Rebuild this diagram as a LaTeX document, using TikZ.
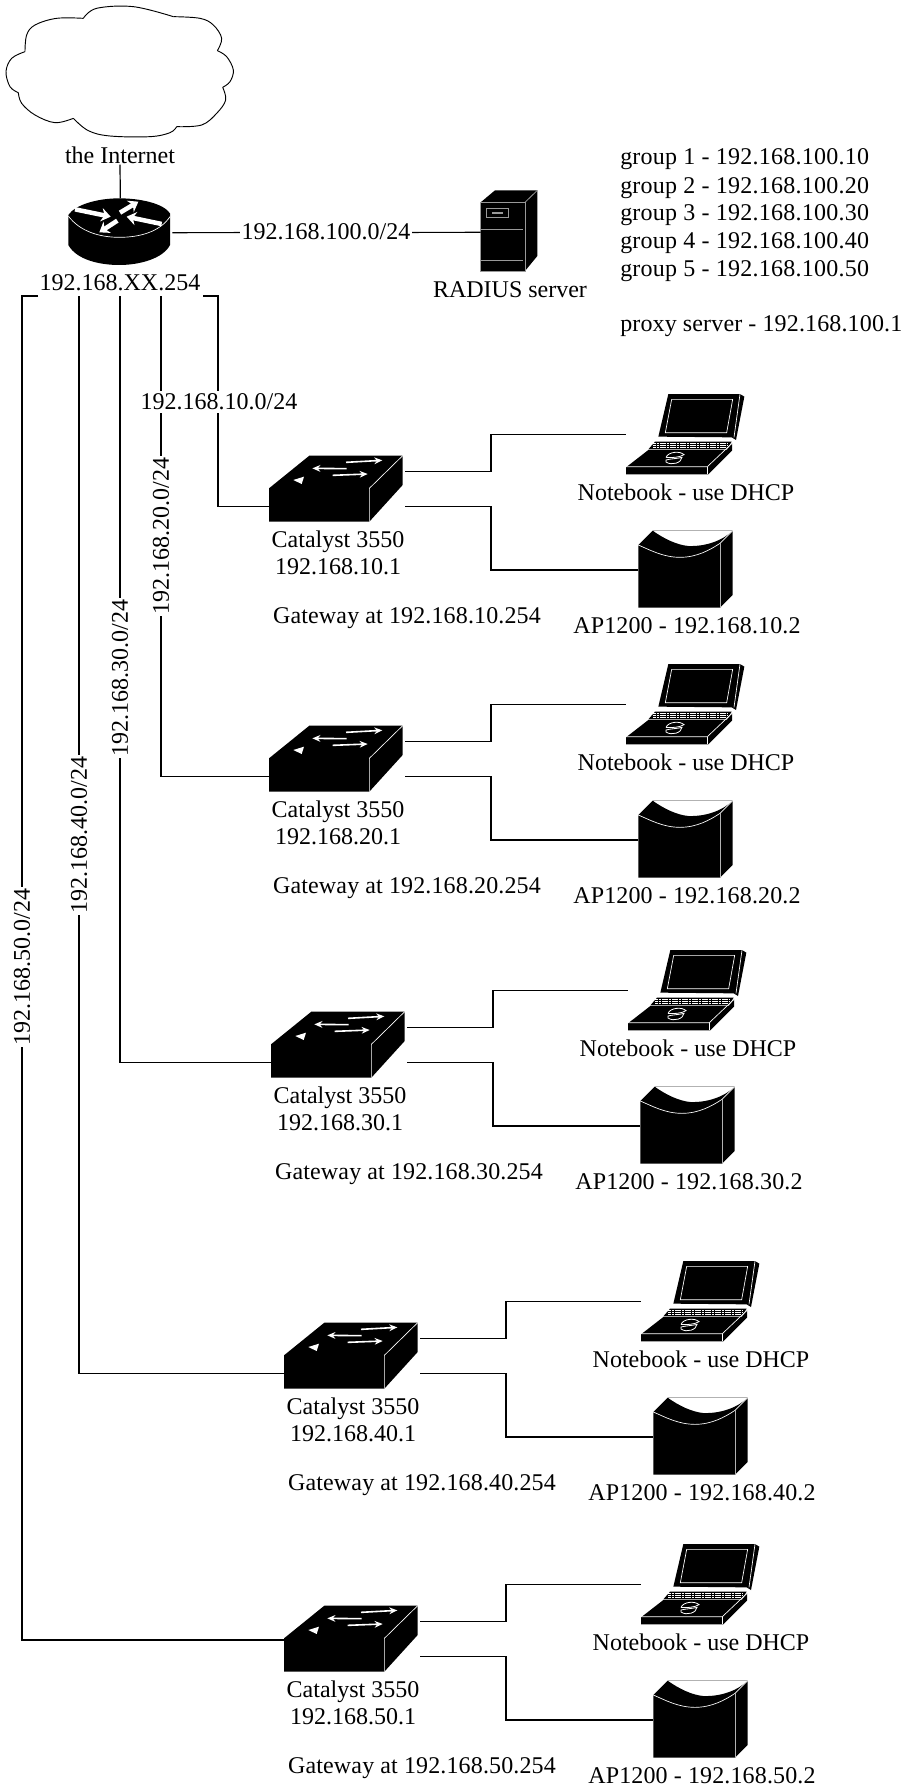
\documentclass[tikz,border=0pt]{standalone}
\usepackage{fontspec}
\setmainfont{Liberation Serif}
\newfontfamily\addrwide[LetterSpace=1]{Liberation Serif}
\newfontfamily\addrsome[LetterSpace=.6]{Liberation Serif}
\usetikzlibrary{arrows.meta}

\tikzset{
  fine/.style={x=.25pt,y=-.25pt},
  wire/.style={line width=.9pt},
  lbl/.style={font=\fontsize{18}{20}\selectfont, inner sep=0pt},
  netlbl/.style={lbl, fill=white, inner xsep=1pt, inner ysep=2pt},
  edge/.style={white, line width=.5pt},
  flow/.style={white, line width=1.2pt, -{Stealth[length=6pt,width=5pt]}},
  fatflow/.style={white, line width=3.4pt, -{Stealth[length=7pt,width=10pt]}},
  pics/catalyst/.style={code={
    \begin{scope}[fine]
      \fill (57,325) -- (178,227) -- (458,227) -- (458,315) -- (358,425) -- (57,425) -- cycle;
      \draw[edge] (358,425) -- (358,325) -- (458,227);
      \draw[flow] (288,247) -- (397,241);
      \draw[flow] (290,266) -- (187,265);
      \draw[flow] (248,286) -- (353,282);
      \fill[white] (130,300) -- (162,290) -- (155,312) -- cycle;
      \coordinate (-in) at (57,380);
      \coordinate (-up) at (466,275);
      \coordinate (-down) at (466,380);
    \end{scope}}},
  pics/notebook/.style={code={
    \begin{scope}[fine]
      \fill (205,42) -- (420,42) -- (433,50) -- (408,180) -- (395,172) -- (175,170) -- cycle;
      \draw[edge] (215,58) -- (398,58) -- (380,158) -- (196,158) -- cycle;
      \draw[edge] (420,42) -- (402,172);
      \fill (165,185) -- (395,185) -- (380,208) -- (145,208) -- cycle;
      \foreach \yy in {191,197,203} {\draw[white, line width=.9pt, dash pattern=on 2pt off .5pt] (160,\yy) -- (385,\yy);}
      \fill (78,262) -- (145,210) -- (380,210) -- (396,190) -- (396,212) -- (325,283) -- (78,283) -- cycle;
      \draw[edge] (78,260) -- (322,260) -- (396,190);
      \draw[edge] (322,260) -- (322,283);
      \draw[white, line width=.6pt] (198,232) .. controls (205,215) and (240,212) .. (252,224) .. controls (240,232) and (215,234) .. (198,232);
      \draw[white, line width=.6pt] (198,240) .. controls (212,236) and (232,236) .. (246,232) .. controls (245,248) and (215,258) .. (198,246) -- cycle;
      \coordinate (-link) at (78,163);
    \end{scope}}},
  pics/apbox/.style={code={
    \begin{scope}[fine]
      \fill (115,495) -- (158,452) .. controls (190,475) and (230,495) .. (265,498) .. controls (320,500) and (370,480) .. (398,452) -- (398,645) -- (360,683) -- (115,683) -- cycle;
      \draw[white!70!black, line width=.4pt] (158,452) -- (398,452);
      \draw[edge] (115,495) .. controls (150,510) and (190,532) .. (240,532) .. controls (290,532) and (330,510) .. (360,490) -- (398,452);
      \draw[white!70!black, line width=.5pt] (360,490) -- (360,683);
      \coordinate (-link) at (115,570);
    \end{scope}}},
  pics/radius/.style={code={
    \begin{scope}[fine]
      \fill (122,97) -- (165,61) -- (292,61) -- (292,258) -- (255,303) -- (122,303) -- cycle;
      \draw[white!60!black, line width=.6pt] (122,303) -- (122,97) -- (255,97) -- (255,303) -- cycle;
      \draw[white!60!black, line width=.6pt] (255,97) -- (292,61);
      \draw[white!60!black, line width=.6pt] (122,178) -- (250,178) (122,272) -- (250,272);
      \draw[white!60!black, line width=.6pt] (140,115) rectangle (205,142);
      \fill[white!60!black] (155,125) rectangle (190,131);
      \coordinate (-link) at (122,187);
    \end{scope}}},
  pics/router/.style={code={
    \begin{scope}[fine]
      \fill (205,645) -- (205,735) .. controls (230,780) and (300,795) .. (358,795) .. controls (420,795) and (490,775) .. (510,735) -- (510,640) .. controls (490,610) and (420,595) .. (358,595) .. controls (290,595) and (225,615) .. (205,645) -- cycle;
      \draw[edge] (205,648) .. controls (240,695) and (300,712) .. (358,712) .. controls (420,712) and (480,695) .. (510,650);
      \draw[fatflow] (225,628) -- (332,650);
      \draw[fatflow] (360,638) -- (415,605);
      \draw[fatflow] (485,672) -- (380,650);
      \draw[fatflow] (352,662) -- (298,697);
      \coordinate (-up) at (361,595);
      \coordinate (-east) at (517,698);
    \end{scope}}},
}

\begin{document}
\begin{tikzpicture}[x=.75pt,y=-.75pt]
  \useasboundingbox (0,0) rectangle (905,1787);

  % cloud
  \begin{scope}[fine]
    \foreach \lobe in {
      {(250,55) (290,25) (400,20) (520,50)},
      {(520,50) (600,55) (640,75) (665,115) (652,152)},
      {(652,152) (680,170) (700,210) (690,245) (668,262)},
      {(668,262) (677,300) (650,340) (605,375) (530,380)},
      {(530,380) (510,398) (450,410) (330,408) (265,392) (220,355)},
      {(220,355) (165,368) (105,345) (65,310) (55,278)},
      {(55,278) (30,260) (18,215) (35,175) (75,155)},
      {(75,155) (80,105) (105,75) (170,55) (250,55)}} {
      \draw[line width=.7pt] plot[smooth, tension=.6] coordinates \lobe;
    }
  \end{scope}

  \node[lbl] (inet) at (120,155) {the Internet};
  \pic (rtr) at (0,0) {router};
  \node[lbl] (rtrip) at (120,283) {192.168.XX.254};
  \draw[wire] (inet.south) ++(0,1) -- (rtr-up);

  \pic (srv) at (440,170) {radius};
  \node[lbl] (srvlbl) at (510,290) {RADIUS server};
  \draw[wire] (rtr-east) -- (srv-link);
  \node[netlbl] (srvnet) at (326,232) {192.168.100.0/24};

  % addresses
  \foreach \n/\yy in {1/159,2/188,3/215,4/243,5/271} {
    \pgfmathtruncatemacro{\hh}{\n*10}
    \node[lbl, anchor=west] (grp\n) at (620,\yy) {\addrwide group \n{} - 192.168.100.\hh};
  }
  \node[lbl, anchor=west] (proxy) at (620,326) {\addrsome proxy server - 192.168.100.1};

  % subnets
  \foreach \dx/\dy/\net in {0/0/10,0/270/20,2/556/30,15/867/40,15/1150/50} {
    \begin{scope}[shift={(\dx,\dy)}]
      \pic (sw\net) at (250,380) {catalyst};
      \node[lbl, align=center] (swlbl\net) at (338,553) {Catalyst 3550\\192.168.\net.1};
      \node[lbl] (gw\net) at (407,618) {\addrsome Gateway at 192.168.\net.254};
      \pic (nb\net) at (600,380) {notebook};
      \node[lbl] (nblbl\net) at (686,492) {Notebook - use DHCP};
      \pic (ap\net) at (600,380) {apbox};
      \node[lbl] (aplbl\net) at (687,626) {\addrsome AP1200 - 192.168.\net.2};
      \coordinate (busa\net) at (491,450);
      \coordinate (busb\net) at (491,540);
      \draw[wire] (sw\net-up) -| (busa\net) |- (nb\net-link);
      \draw[wire] (sw\net-down) -| (busb\net) |- (ap\net-link);
    \end{scope}
  }

  % trunks
  \coordinate (t10) at (218,296);
  \coordinate (t20) at (161,296);
  \coordinate (t30) at (120,296);
  \coordinate (t40) at (79,296);
  \coordinate (t50) at (22,296);
  \coordinate (s10) at (203,296);
  \coordinate (s50) at (38,296);
  \coordinate (e50) at (284,1640);
  \draw[wire] (s10) -- (t10) |- (sw10-in);
  \draw[wire] (t20) |- (sw20-in);
  \draw[wire] (t30) |- (sw30-in);
  \draw[wire] (t40) |- (sw40-in);
  \draw[wire] (s50) -- (t50) |- (e50);
  \node[netlbl] (lan10) at (219,402) {192.168.10.0/24};
  \node[netlbl, rotate=90] (lan20) at (161,536) {192.168.20.0/24};
  \node[netlbl, rotate=90] (lan30) at (120,678) {192.168.30.0/24};
  \node[netlbl, rotate=90] (lan40) at (79,835) {192.168.40.0/24};
  \node[netlbl, rotate=90] (lan50) at (22,967) {192.168.50.0/24};
\end{tikzpicture}
\end{document}
